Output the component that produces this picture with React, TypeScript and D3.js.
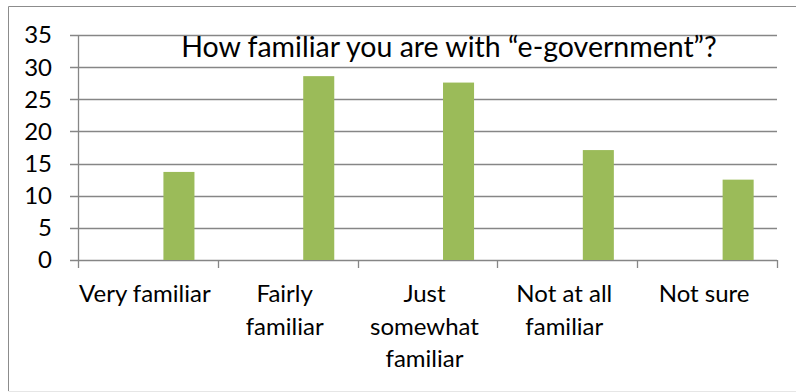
import React from "react";
import * as d3 from "d3";

const categories: string[] = ["Very familiar", "Fairly familiar", "Just somewhat familiar", "Not at all familiar", "Not sure"];
const categoryLines: string[][] = [["Very familiar"], ["Fairly", "familiar"], ["Just", "somewhat", "familiar"], ["Not at all", "familiar"], ["Not sure"]];
const values: number[] = [13.7, 28.6, 27.6, 17.1, 12.5];
const yTicks: number[] = [0, 5, 10, 15, 20, 25, 30, 35];
const title = "How familiar you are with \u201ce-government\u201d?";

const W = 796;
const H = 392;
const FONT = "Lato, 'Open Sans', sans-serif";

export default function App() {
  const x = d3.scaleBand<string>().domain(categories).range([78, 777]).padding(0);
  const y = d3.scaleLinear().domain([0, 35]).range([260, 35]);
  const bw = x.bandwidth();
  const grid = "#868686";
  const fs = 24;

  return (
    <svg width={W} height={H} style={{ position: "absolute", left: 0, top: 0, background: "#fff" }} fontFamily={FONT}>
      <rect x={0} y={0} width={W} height={H} fill="#fff" />
      {/* outer frame */}
      <line x1={8.5} y1={6.5} x2={W} y2={6.5} stroke="#8c8c8c" strokeWidth={1} />
      <line x1={8.5} y1={6.5} x2={8.5} y2={391} stroke="#8c8c8c" strokeWidth={1} />
      <line x1={8.5} y1={391.5} x2={W} y2={391.5} stroke="#e6e6e6" strokeWidth={1} />

      {/* gridlines + y ticks */}
      {yTicks.map((t) => (
        <g key={t}>
          <line x1={70} x2={777} y1={Math.round(y(t)) + 0.5} y2={Math.round(y(t)) + 0.5} stroke={grid} strokeWidth={1.3} />
          <text x={52} y={y(t)} dy="0.35em" textAnchor="end" fontSize={fs} fill="#000">
            {t}
          </text>
        </g>
      ))}
      {/* y axis line */}
      <line x1={78.5} x2={78.5} y1={35} y2={260} stroke={grid} strokeWidth={1.3} />

      {/* bars */}
      {categories.map((c, i) => (
        <rect key={c} x={(x(c) as number) + bw * 0.611} width={bw * 0.222} y={y(values[i])} height={y(0) - y(values[i])} fill="#9BBB59" />
      ))}

      {/* category ticks */}
      {[...categories.map((c) => x(c) as number), 777].map((v, i) => (
        <line key={i} x1={Math.round(v) + 0.5} x2={Math.round(v) + 0.5} y1={260} y2={268} stroke={grid} strokeWidth={1.3} />
      ))}

      {/* category labels */}
      {categories.map((c, i) => (
        <text key={c} textAnchor="middle" fontSize={fs} fill="#000">
          {categoryLines[i].map((ln, j) => (
            <tspan key={j} x={(x(c) as number) + bw / 2 - 3} y={302 + j * 32.5}>
              {ln}
            </tspan>
          ))}
        </text>
      ))}

      {/* title */}
      <text x={449} y={57} textAnchor="middle" fontSize={28.5} fill="#000">
        {title}
      </text>
    </svg>
  );
}
